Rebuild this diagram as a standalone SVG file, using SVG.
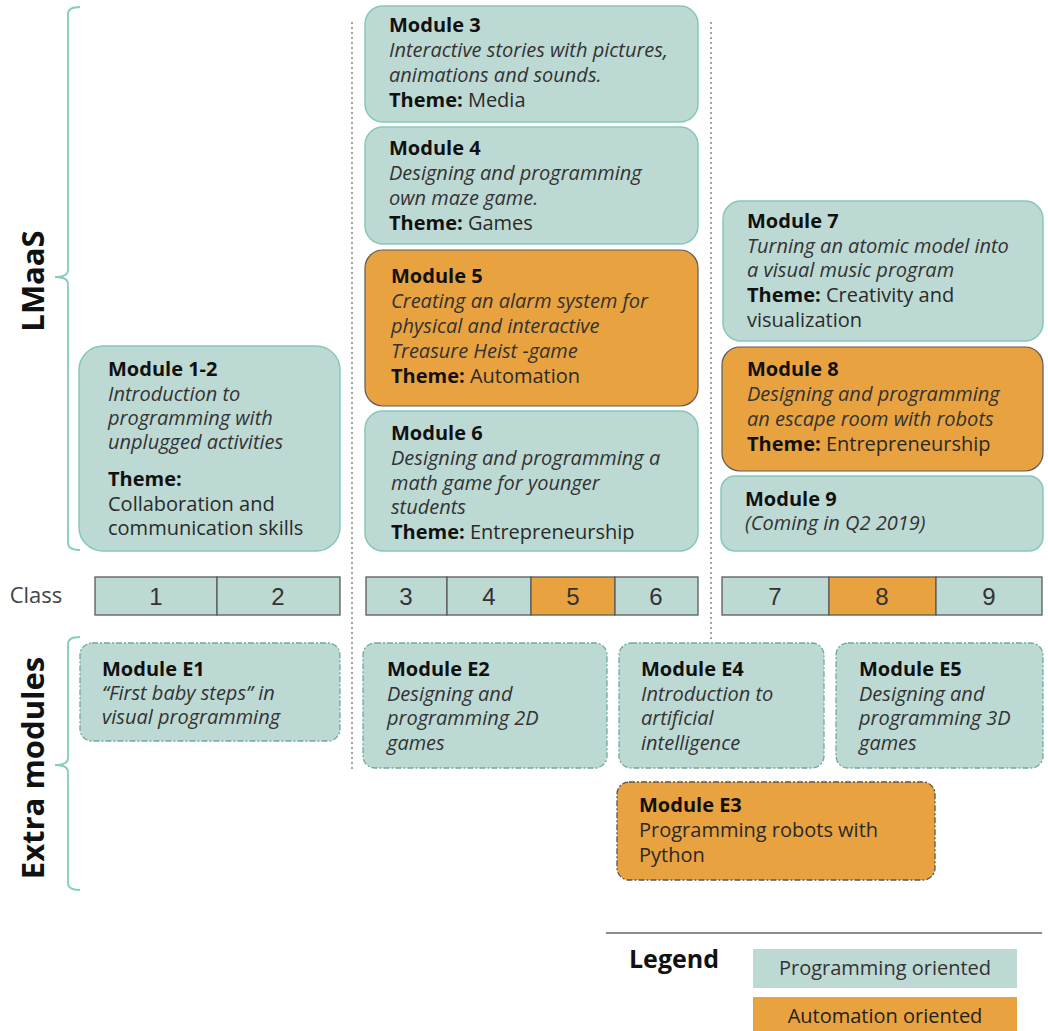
<svg xmlns="http://www.w3.org/2000/svg" width="1048" height="1031" viewBox="0 0 1048 1031">
<style>
text{font-family:"Open Sans","Liberation Sans",sans-serif;font-size:20px;fill:#2a2a2a}
.t{font-weight:bold;fill:#111}
.i{font-style:italic;fill:#333}
.side{font-weight:bold;font-size:31px;fill:#111}
.num{font-family:"Liberation Sans",Arial,sans-serif;font-size:24px;fill:#333;text-anchor:middle}
.teal{fill:#bdd9d3;stroke:#86c7bb;stroke-width:1.5}
.orange{fill:#e9a240;stroke:#5a5a5a;stroke-width:1.2}
.tealx{fill:#bdd9d3;stroke:#6fa89d;stroke-width:1.3;stroke-dasharray:6 2 2 2}
.orangex{fill:#e9a240;stroke:#555;stroke-width:1.3;stroke-dasharray:6 2 2 2}
.cell{fill:#bdd9d3;stroke:#5a5a5a;stroke-width:1.3}
.cello{fill:#e9a240;stroke:#5a5a5a;stroke-width:1.3}
.br{fill:none;stroke:#84cdbf;stroke-width:1.8}
.dot{stroke:#888;stroke-width:1.5;stroke-dasharray:2 3}
</style>
<rect width="1048" height="1031" fill="#fff"/>
<g id="connectors">
<path class="br" d="M80,7 Q68,7 68,14 L68,270 Q68,277 55,277 Q68,277 68,284 L68,543 Q68,550 80,550"/>
<path class="br" d="M80,637 Q68,637 68,644 L68,758 Q68,765 55,765 Q68,765 68,772 L68,883 Q68,890 80,890"/>
<line class="dot" x1="352" y1="22" x2="352" y2="770"/>
<line class="dot" x1="711" y1="22" x2="711" y2="640"/>
<line x1="606" y1="933" x2="1042" y2="933" stroke="#666" stroke-width="1.5"/>
</g>
<g id="labels">
<text class="side" transform="translate(44,281) rotate(-90)" text-anchor="middle">LMaaS</text>
<text class="side" transform="translate(44,768) rotate(-90)" text-anchor="middle">Extra modules</text>
<text x="36" y="603" text-anchor="middle" style="font-size:22px;fill:#444">Class</text>
</g>
<g id="m3"><rect class="teal" x="365" y="6" width="333" height="116" rx="18"/>
<text x="389" y="32"><tspan class="t">Module 3</tspan><tspan class="i" x="389" dy="25">Interactive stories with pictures,</tspan><tspan class="i" x="389" dy="25">animations and sounds.</tspan><tspan x="389" dy="25" class="t">Theme:</tspan><tspan> Media</tspan></text></g>
<g id="m4"><rect class="teal" x="365" y="127" width="333" height="117" rx="18"/>
<text x="389" y="155"><tspan class="t">Module 4</tspan><tspan class="i" x="389" dy="25">Designing and programming</tspan><tspan class="i" x="389" dy="25">own maze game.</tspan><tspan x="389" dy="25" class="t">Theme:</tspan><tspan> Games</tspan></text></g>
<g id="m5"><rect class="orange" x="365" y="250" width="333" height="156" rx="18"/>
<text x="391" y="283"><tspan class="t">Module 5</tspan><tspan class="i" x="391" dy="25">Creating an alarm system for</tspan><tspan class="i" x="391" dy="25">physical and interactive</tspan><tspan class="i" x="391" dy="25">Treasure Heist -game</tspan><tspan x="391" dy="25" class="t">Theme:</tspan><tspan> Automation</tspan></text></g>
<g id="m6"><rect class="teal" x="365" y="411" width="333" height="140" rx="18"/>
<text x="391" y="440"><tspan class="t">Module 6</tspan><tspan class="i" x="391" dy="25">Designing and programming a</tspan><tspan class="i" x="391" dy="25">math game for younger</tspan><tspan class="i" x="391" dy="24">students</tspan><tspan x="391" dy="25" class="t">Theme:</tspan><tspan> Entrepreneurship</tspan></text></g>
<g id="m12"><rect class="teal" x="79" y="346" width="261" height="205" rx="24"/>
<text x="108" y="376"><tspan class="t">Module 1-2</tspan><tspan class="i" x="108" dy="25">Introduction to</tspan><tspan class="i" x="108" dy="24">programming with</tspan><tspan class="i" x="108" dy="24">unplugged activities</tspan><tspan x="108" dy="37" class="t">Theme:</tspan><tspan x="108" dy="25">Collaboration and</tspan><tspan x="108" dy="24">communication skills</tspan></text></g>
<g id="m7"><rect class="teal" x="723" y="201" width="320" height="140" rx="18"/>
<text x="747" y="228"><tspan class="t">Module 7</tspan><tspan class="i" x="747" dy="25">Turning an atomic model into</tspan><tspan class="i" x="747" dy="24">a visual music program</tspan><tspan x="747" dy="25" class="t">Theme:</tspan><tspan> Creativity and</tspan><tspan x="747" dy="25">visualization</tspan></text></g>
<g id="m8"><rect class="orange" x="722" y="347" width="321" height="124" rx="18"/>
<text x="747" y="376"><tspan class="t">Module 8</tspan><tspan class="i" x="747" dy="25">Designing and programming</tspan><tspan class="i" x="747" dy="25">an escape room with robots</tspan><tspan x="747" dy="25" class="t">Theme:</tspan><tspan> Entrepreneurship</tspan></text></g>
<g id="m9"><rect class="teal" x="721" y="476" width="322" height="75" rx="14"/>
<text x="745" y="506"><tspan class="t">Module 9</tspan><tspan class="i" x="745" dy="24">(Coming in Q2 2019)</tspan></text></g>
<g id="classes">
<rect class="cell" x="95" y="577" width="122" height="38"/><rect class="cell" x="217" y="577" width="123" height="38"/>
<rect class="cell" x="366" y="577" width="81" height="38"/><rect class="cell" x="447" y="577" width="84" height="38"/><rect class="cello" x="531" y="577" width="84" height="38"/><rect class="cell" x="615" y="577" width="83" height="38"/>
<rect class="cell" x="722" y="577" width="107" height="38"/><rect class="cello" x="829" y="577" width="107" height="38"/><rect class="cell" x="936" y="577" width="106" height="38"/>
<text class="num" x="156" y="605">1</text><text class="num" x="278" y="605">2</text>
<text class="num" x="406" y="605">3</text><text class="num" x="489" y="605">4</text><text class="num" x="573" y="605">5</text><text class="num" x="656" y="605">6</text>
<text class="num" x="775" y="605">7</text><text class="num" x="882" y="605">8</text><text class="num" x="989" y="605">9</text>
</g>
<g id="e1"><rect class="tealx" x="80" y="643" width="260" height="98" rx="12"/>
<text x="102" y="676"><tspan class="t">Module E1</tspan><tspan class="i" x="102" dy="24">“First baby steps” in</tspan><tspan class="i" x="102" dy="24">visual programming</tspan></text></g>
<g id="e2"><rect class="tealx" x="363" y="643" width="244" height="125" rx="12"/>
<text x="387" y="676"><tspan class="t">Module E2</tspan><tspan class="i" x="387" dy="25">Designing and</tspan><tspan class="i" x="387" dy="24">programming 2D</tspan><tspan class="i" x="387" dy="25">games</tspan></text></g>
<g id="e4"><rect class="tealx" x="619" y="643" width="205" height="125" rx="12"/>
<text x="641" y="676"><tspan class="t">Module E4</tspan><tspan class="i" x="641" dy="25">Introduction to</tspan><tspan class="i" x="641" dy="24">artificial</tspan><tspan class="i" x="641" dy="25">intelligence</tspan></text></g>
<g id="e5"><rect class="tealx" x="836" y="643" width="207" height="125" rx="12"/>
<text x="859" y="676"><tspan class="t">Module E5</tspan><tspan class="i" x="859" dy="25">Designing and</tspan><tspan class="i" x="859" dy="24">programming 3D</tspan><tspan class="i" x="859" dy="25">games</tspan></text></g>
<g id="e3"><rect class="orangex" x="617" y="782" width="318" height="98" rx="12"/>
<text x="639" y="812"><tspan class="t">Module E3</tspan><tspan x="639" dy="25">Programming robots with</tspan><tspan x="639" dy="25">Python</tspan></text></g>
<g id="legend">
<text x="629" y="968" style="font-weight:bold;font-size:25px;fill:#111">Legend</text>
<rect x="753" y="949" width="264" height="39" fill="#bdd9d3"/>
<text x="885" y="975" text-anchor="middle" style="fill:#333">Programming oriented</text>
<rect x="753" y="997" width="264" height="34" fill="#e9a240"/>
<text x="885" y="1023" text-anchor="middle" style="fill:#222">Automation oriented</text>
</g>
</svg>
